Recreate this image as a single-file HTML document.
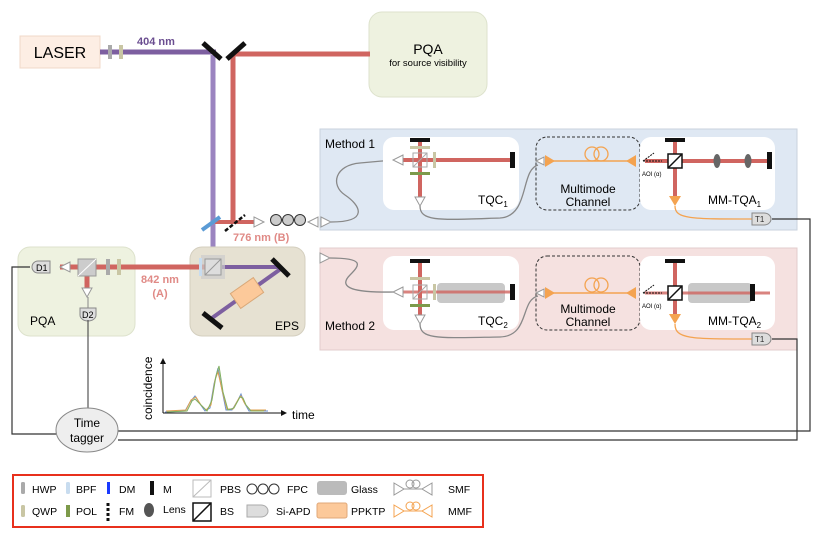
<!DOCTYPE html>
<html><head><meta charset="utf-8"><style>
html,body{margin:0;padding:0;background:#fff}
svg{display:block}
text{font-family:"Liberation Sans",Arial,sans-serif}
</style></head><body>
<svg width="817" height="545" viewBox="0 0 817 545" xmlns="http://www.w3.org/2000/svg">
<defs>
<g id="tri"><polygon points="0,-5 10,0 0,5" fill="#fff" stroke="#999" stroke-width="1"/></g>
<g id="apd"><path d="M0,-6 h12 a7,6 0 0 1 0,12 h-12 z" fill="#ddd" stroke="#888" stroke-width="1"/></g>
</defs>

<!-- PQA top -->
<rect x="369" y="12" width="118" height="85" rx="13" fill="#eef2e0" stroke="#dde2cc"/>
<text x="428" y="54" font-size="14" text-anchor="middle">PQA</text>
<text x="428" y="66" font-size="9.5" text-anchor="middle">for source visibility</text>

<!-- LASER -->
<rect x="20" y="36" width="80" height="32" fill="#fdeee4" stroke="#f0d8c8"/>
<text x="60" y="58" font-size="16" text-anchor="middle">LASER</text>
<line x1="100" y1="52" x2="216" y2="52" stroke="#7d5fa0" stroke-width="5"/>
<rect x="108" y="45" width="4" height="14" fill="#aaa"/>
<rect x="119" y="45" width="4" height="14" fill="#c9c6a4"/>
<text x="137" y="45" font-size="11" font-weight="bold" fill="#6a4d90">404 nm</text>
<!-- purple vertical -->
<line x1="213" y1="55" x2="213" y2="320" stroke="#9b84c0" stroke-width="5"/>
<!-- red -->
<line x1="233" y1="54" x2="370" y2="54" stroke="#d06560" stroke-width="5"/>
<line x1="233" y1="54" x2="233" y2="222" stroke="#d06560" stroke-width="5"/>
<line x1="203" y1="43" x2="221" y2="59" stroke="#111" stroke-width="5"/>
<line x1="227" y1="59" x2="245" y2="43" stroke="#111" stroke-width="5"/>

<!-- Method boxes -->
<rect x="320" y="129" width="477" height="101" fill="#dfe8f3" stroke="#c8d2de"/>
<rect x="320" y="248" width="477" height="102" fill="#f5e1e0" stroke="#e2cccc"/>
<text x="325" y="148" font-size="12">Method 1</text>
<text x="325" y="330" font-size="12">Method 2</text>

<!-- beam 776 -->
<line x1="215" y1="222" x2="256" y2="222" stroke="#d06560" stroke-width="4"/>
<line x1="202" y1="230" x2="220" y2="217" stroke="#5b9bd5" stroke-width="4"/>
<line x1="225" y1="231" x2="245" y2="215" stroke="#111" stroke-width="2.5" stroke-dasharray="4,2"/>
<use href="#tri" x="254" y="222"/>
<circle cx="276" cy="220" r="5.5" fill="#ccc" stroke="#333"/>
<circle cx="288" cy="220" r="5.5" fill="#ccc" stroke="#333"/>
<circle cx="300" cy="220" r="5.5" fill="#ccc" stroke="#333"/>
<polygon points="308,222 318,217 318,227" fill="#fff" stroke="#999"/>
<use href="#tri" x="321" y="222"/>
<text x="233" y="241" font-size="11" font-weight="bold" fill="#e08a86">776 nm (B)</text>
<path d="M331,222 C370,222 360,205 345,195 C330,185 335,165 360,163 L393,160" fill="none" stroke="#888" stroke-width="1.3"/>

<!-- Method 1 row -->
<g>
<rect x="383" y="137" width="136" height="73" rx="11" fill="#fff"/>
<rect x="536" y="137" width="104" height="73" rx="11" fill="#dfe8f3" stroke="#333" stroke-dasharray="3,2"/>
<rect x="640" y="137" width="135" height="73" rx="11" fill="#fff"/>
<line x1="400" y1="160" x2="512" y2="160" stroke="#d06560" stroke-width="4"/>
<line x1="420" y1="141" x2="420" y2="197" stroke="#d06560" stroke-width="4"/>
<rect x="410" y="138" width="20" height="4" fill="#111"/>
<rect x="410" y="146" width="20" height="3" fill="#c9c6a4"/>
<rect x="413" y="153" width="14" height="14" fill="none" stroke="#aaa"/>
<line x1="413" y1="167" x2="427" y2="153" stroke="#aaa"/>
<rect x="410" y="172" width="20" height="3" fill="#7d9a4a"/>
<rect x="433" y="152" width="3" height="16" fill="#c9c6a4"/>
<rect x="510" y="152" width="5" height="16" fill="#111"/>
<polygon points="403,155 393,160 403,165" fill="#fff" stroke="#999"/>
<polygon points="415,197 425,197 420,206" fill="#fff" stroke="#999"/>
<text x="478" y="204" font-size="12">TQC<tspan font-size="8" dy="3">1</tspan></text>
<path d="M420,206 C420,222 440,220 500,218 C530,216 520,170 538,165" fill="none" stroke="#888" stroke-width="1.3"/>
<polygon points="536,161 544,157 544,165" fill="#fff" stroke="#999"/>
<line x1="545" y1="161" x2="635" y2="161" stroke="#f4a350" stroke-width="1.5"/>
<polygon points="545,155 555,161 545,167" fill="#f4a350"/>
<polygon points="636,155 626,161 636,167" fill="#f4a350"/>
<circle cx="592" cy="154" r="7" fill="none" stroke="#f4a350" stroke-width="1.3"/>
<circle cx="601" cy="154" r="7" fill="none" stroke="#f4a350" stroke-width="1.3"/>
<text x="588" y="193" font-size="12" text-anchor="middle">Multimode</text>
<text x="588" y="206" font-size="12" text-anchor="middle">Channel</text>
<line x1="645" y1="161" x2="770" y2="161" stroke="#d06560" stroke-width="4"/>
<line x1="675" y1="141" x2="675" y2="198" stroke="#d06560" stroke-width="4"/>
<rect x="665" y="138" width="20" height="4" fill="#111"/>
<rect x="668" y="154" width="14" height="14" fill="#fff" stroke="#111" stroke-width="1.5"/>
<line x1="668" y1="168" x2="682" y2="154" stroke="#111" stroke-width="1.5"/>
<ellipse cx="717" cy="161" rx="3.5" ry="7" fill="#666"/>
<ellipse cx="748" cy="161" rx="3.5" ry="7" fill="#666"/>
<rect x="767" y="152" width="5" height="17" fill="#111"/>
<line x1="643" y1="161" x2="662" y2="161" stroke="#111" stroke-dasharray="2,1"/>
<line x1="643" y1="161" x2="654" y2="153" stroke="#111" stroke-dasharray="2,1"/>
<text x="642" y="176" font-size="6">AOI (α)</text>
<polygon points="669,196 681,196 675,206" fill="#f4a350"/>
<text x="708" y="204" font-size="12">MM-TQA<tspan font-size="8" dy="3">1</tspan></text>
<path d="M675,206 C675,219 690,219 752,219" fill="none" stroke="#f4a350" stroke-width="1.3"/>
<use href="#apd" x="752" y="219"/>
<text x="755" y="222" font-size="8" fill="#333">T1</text>
</g>

<!-- Method 2 row -->
<g>
<rect x="383" y="256" width="136" height="74" rx="11" fill="#fff"/>
<rect x="536" y="256" width="104" height="74" rx="11" fill="#f5e1e0" stroke="#333" stroke-dasharray="3,2"/>
<rect x="640" y="256" width="135" height="74" rx="11" fill="#fff"/>
<rect x="437" y="283" width="68" height="20" rx="4" fill="#c8c8c8"/>
<line x1="400" y1="292" x2="512" y2="292" stroke="#d06560" stroke-width="3" opacity="0.8"/>
<line x1="420" y1="260" x2="420" y2="315" stroke="#d06560" stroke-width="4"/>
<rect x="410" y="259" width="20" height="4" fill="#111"/>
<rect x="410" y="277" width="20" height="3" fill="#c9c6a4"/>
<rect x="413" y="285" width="14" height="14" fill="none" stroke="#aaa"/>
<line x1="413" y1="299" x2="427" y2="285" stroke="#aaa"/>
<rect x="410" y="304" width="20" height="3" fill="#7d9a4a"/>
<rect x="433" y="284" width="3" height="16" fill="#c9c6a4"/>
<rect x="510" y="284" width="5" height="16" fill="#111"/>
<polygon points="403,287 393,292 403,297" fill="#fff" stroke="#999"/>
<polygon points="415,315 425,315 420,324" fill="#fff" stroke="#999"/>
<text x="478" y="325" font-size="12">TQC<tspan font-size="8" dy="3">2</tspan></text>
<path d="M420,324 C420,340 440,338 500,337 C530,336 520,300 538,296" fill="none" stroke="#888" stroke-width="1.3"/>
<polygon points="320,253 330,258 320,263" fill="#fff" stroke="#999"/>
<path d="M330,258 C365,258 360,265 350,275 C340,285 345,293 393,292" fill="none" stroke="#888" stroke-width="1.3"/>
<polygon points="536,293 544,289 544,297" fill="#fff" stroke="#999"/>
<line x1="545" y1="293" x2="635" y2="293" stroke="#f4a350" stroke-width="1.5"/>
<polygon points="545,287 555,293 545,299" fill="#f4a350"/>
<polygon points="636,287 626,293 636,299" fill="#f4a350"/>
<circle cx="592" cy="285" r="7" fill="none" stroke="#f4a350" stroke-width="1.3"/>
<circle cx="601" cy="285" r="7" fill="none" stroke="#f4a350" stroke-width="1.3"/>
<text x="588" y="313" font-size="12" text-anchor="middle">Multimode</text>
<text x="588" y="326" font-size="12" text-anchor="middle">Channel</text>
<rect x="688" y="283" width="64" height="20" rx="4" fill="#c8c8c8"/>
<line x1="645" y1="293" x2="770" y2="293" stroke="#d06560" stroke-width="3" opacity="0.8"/>
<line x1="675" y1="260" x2="675" y2="316" stroke="#d06560" stroke-width="4"/>
<rect x="665" y="259" width="20" height="4" fill="#111"/>
<rect x="668" y="286" width="14" height="14" fill="#fff" stroke="#111" stroke-width="1.5"/>
<line x1="668" y1="300" x2="682" y2="286" stroke="#111" stroke-width="1.5"/>
<rect x="750" y="284" width="5" height="17" fill="#111"/>
<line x1="643" y1="293" x2="662" y2="293" stroke="#111" stroke-dasharray="2,1"/>
<line x1="643" y1="293" x2="654" y2="285" stroke="#111" stroke-dasharray="2,1"/>
<text x="642" y="308" font-size="6">AOI (α)</text>
<polygon points="669,314 681,314 675,324" fill="#f4a350"/>
<text x="708" y="325" font-size="12">MM-TQA<tspan font-size="8" dy="3">2</tspan></text>
<path d="M675,324 C675,339 690,339 752,339" fill="none" stroke="#f4a350" stroke-width="1.3"/>
<use href="#apd" x="752" y="339"/>
<text x="755" y="342" font-size="8" fill="#333">T1</text>
</g>

<!-- PQA bottom -->
<rect x="18" y="247" width="117" height="89" rx="12" fill="#eef2e0" stroke="#dde2cc"/>
<text x="30" y="325" font-size="12">PQA</text>
<!-- EPS -->
<rect x="190" y="247" width="115" height="89" rx="12" fill="#e6e1d2" stroke="#d4cfbf"/>
<text x="275" y="330" font-size="12">EPS</text>

<line x1="60" y1="267" x2="212" y2="267" stroke="#d06560" stroke-width="5"/>
<line x1="87" y1="267" x2="87" y2="288" stroke="#d06560" stroke-width="5"/>
<rect x="78" y="259" width="18" height="17" fill="#ccc" stroke="#999"/>
<line x1="78" y1="276" x2="96" y2="259" stroke="#fff"/>
<rect x="106" y="259" width="4" height="16" fill="#aaa"/>
<rect x="117" y="259" width="4" height="16" fill="#c9c6a4"/>
<polygon points="70,262 60,267 70,272" fill="#fff" stroke="#999"/>
<path d="M50,261 h-12 a6,6 0 0 0 0,12 h12 z" fill="#ddd" stroke="#888"/>
<text x="36" y="271" font-size="9">D1</text>
<polygon points="82,288 92,288 87,297" fill="#fff" stroke="#999"/>
<line x1="88" y1="297" x2="88" y2="308" stroke="#888"/>
<path d="M80,308 h16 v7 a8,6 0 0 1 -16,0 z" fill="#ddd" stroke="#888"/>
<text x="82" y="318" font-size="9">D2</text>
<text x="160" y="283" font-size="11" font-weight="bold" fill="#e08a86" text-anchor="middle">842 nm</text>
<text x="160" y="297" font-size="11" font-weight="bold" fill="#e08a86" text-anchor="middle">(A)</text>

<!-- EPS internals -->
<line x1="222" y1="267" x2="280" y2="267" stroke="#7d5fa0" stroke-width="4"/>
<line x1="282" y1="268" x2="212" y2="318" stroke="#7d5fa0" stroke-width="4"/>
<line x1="272" y1="259" x2="289" y2="276" stroke="#111" stroke-width="5"/>
<line x1="203" y1="313" x2="222" y2="328" stroke="#111" stroke-width="5"/>
<g transform="translate(247,293) rotate(-35)"><rect x="-14" y="-9" width="28" height="18" fill="#fcc99a" stroke="#d9a878"/></g>
<rect x="201" y="255" width="24" height="24" fill="#ccc" opacity="0.7"/>
<rect x="205" y="259" width="16" height="16" fill="#ddd" stroke="#999"/>
<line x1="205" y1="275" x2="221" y2="259" stroke="#999"/>
<rect x="199" y="258" width="3" height="18" fill="#c8dcef"/>

<!-- Time tagger -->
<line x1="88" y1="320" x2="88" y2="408" stroke="#555" stroke-width="1.2"/>
<polyline points="30,267 12,267 12,434 56,434" fill="none" stroke="#333" stroke-width="1.2"/>
<polyline points="772,219 810,219 810,431 118,431" fill="none" stroke="#333" stroke-width="1.2"/>
<polyline points="772,339 797,339 797,440 118,440" fill="none" stroke="#333" stroke-width="1.2"/>
<ellipse cx="87" cy="430" rx="31" ry="22" fill="#eee" stroke="#888"/>
<text x="87" y="427" font-size="12" text-anchor="middle">Time</text>
<text x="87" y="442" font-size="12" text-anchor="middle">tagger</text>

<!-- plot -->
<line x1="163" y1="413" x2="163" y2="362" stroke="#111"/>
<polygon points="160,364 166,364 163,358" fill="#111"/>
<line x1="163" y1="413" x2="282" y2="413" stroke="#111"/>
<polygon points="281,410 281,416 287,413" fill="#111"/>
<text x="292" y="419" font-size="12">time</text>
<text transform="translate(152,420) rotate(-90)" font-size="12">coincidence</text>
<path d="M165,412 L185,411 190,402 195,396 200,404 205,411 210,408 214,384 218,368 221,385 226,410 232,410 238,400 241,394 244,402 249,411 268,411" fill="none" stroke="#6a8fd0" stroke-width="1"/>
<path d="M166,411 L186,410 191,400 196,397 201,405 206,410 211,405 215,380 218,372 222,390 227,409 233,409 239,398 241,396 245,404 250,410 266,410" fill="none" stroke="#e0a050" stroke-width="1"/>
<path d="M167,412 L187,411 192,401 195,399 202,406 207,411 212,400 216,376 219,366 223,392 228,410 234,408 240,397 243,398 246,405 251,411 264,411" fill="none" stroke="#80b060" stroke-width="1"/>

<!-- legend -->
<rect x="13" y="475" width="470" height="52" fill="#fff" stroke="#e8301c" stroke-width="2"/>
<g font-size="10.5">
<rect x="21" y="482" width="4" height="12" rx="1.5" fill="#aaa"/><text x="32" y="493">HWP</text>
<rect x="21" y="505" width="4" height="12" rx="1.5" fill="#c9c6a4"/><text x="32" y="515">QWP</text>
<rect x="66" y="482" width="4" height="12" rx="1.5" fill="#c8dcef"/><text x="76" y="493">BPF</text>
<rect x="66" y="505" width="4" height="12" fill="#7d9a4a"/><text x="76" y="515">POL</text>
<rect x="107" y="482" width="3" height="12" fill="#1a3aff"/><text x="119" y="493">DM</text>
<line x1="108" y1="503" x2="108" y2="522" stroke="#111" stroke-width="3" stroke-dasharray="3,2"/><text x="119" y="515">FM</text>
<rect x="150" y="481" width="4" height="14" fill="#111"/><text x="163" y="493">M</text>
<ellipse cx="149" cy="510" rx="5" ry="7" fill="#555"/><text x="163" y="513">Lens</text>
<rect x="193" y="480" width="18" height="17" fill="#fff" stroke="#bbb"/><line x1="193" y1="497" x2="211" y2="480" stroke="#bbb"/><text x="220" y="493">PBS</text>
<rect x="193" y="503" width="18" height="18" fill="#fff" stroke="#111" stroke-width="1.5"/><line x1="193" y1="521" x2="211" y2="503" stroke="#111" stroke-width="1.5"/><text x="220" y="515">BS</text>
<circle cx="252" cy="489" r="5" fill="none" stroke="#333"/><circle cx="263" cy="489" r="5" fill="none" stroke="#333"/><circle cx="274" cy="489" r="5" fill="none" stroke="#333"/><text x="287" y="493">FPC</text>
<path d="M247,505 h14 a7,6 0 0 1 0,12 h-14 z" fill="#ddd" stroke="#aaa"/><text x="276" y="515">Si-APD</text>
<rect x="317" y="481" width="30" height="14" rx="3" fill="#bbb"/><text x="351" y="493">Glass</text>
<rect x="317" y="503" width="30" height="15" rx="2" fill="#fcc99a" stroke="#e0a878"/><text x="351" y="515">PPKTP</text>
<polygon points="394,483 404,489 394,495" fill="#fff" stroke="#999"/><polygon points="432,483 422,489 432,495" fill="#fff" stroke="#999"/>
<line x1="404" y1="489" x2="422" y2="489" stroke="#999"/><circle cx="410" cy="484" r="4" fill="none" stroke="#999"/><circle cx="416" cy="484" r="4" fill="none" stroke="#999"/>
<text x="448" y="493">SMF</text>
<polygon points="394,505 404,511 394,517" fill="#fff" stroke="#f4a350"/><polygon points="432,505 422,511 432,517" fill="#fff" stroke="#f4a350"/>
<line x1="404" y1="511" x2="422" y2="511" stroke="#f4a350"/><circle cx="410" cy="506" r="4" fill="none" stroke="#f4a350"/><circle cx="416" cy="506" r="4" fill="none" stroke="#f4a350"/>
<text x="448" y="515">MMF</text>
</g>
</svg>
</body></html>
